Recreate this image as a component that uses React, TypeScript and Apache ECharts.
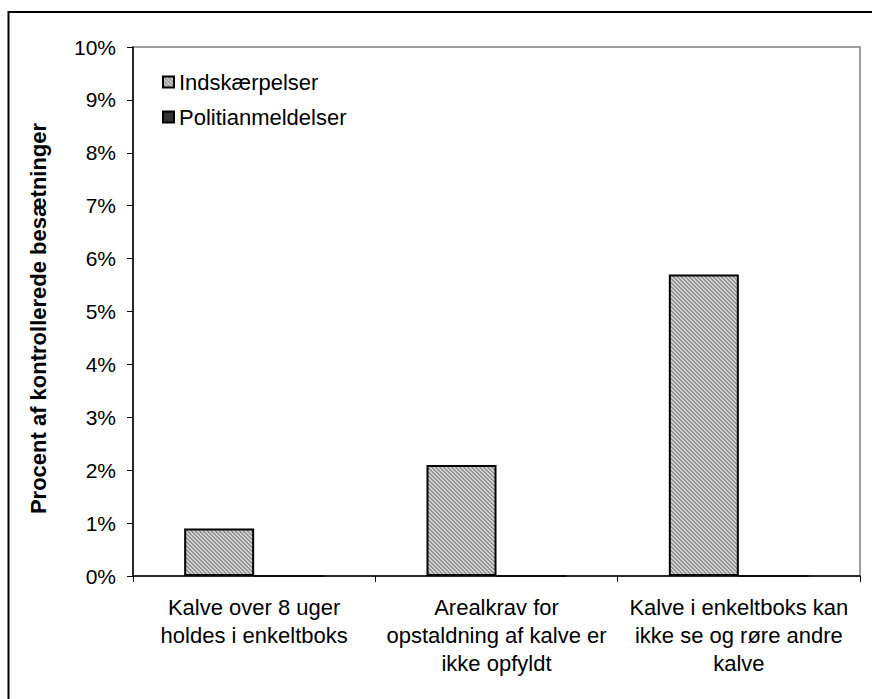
import React, { useEffect, useRef } from "react";
import * as echarts from "echarts";

const categories = [
  "Kalve over 8 uger\nholdes i enkeltboks",
  "Arealkrav for\nopstaldning af kalve er\nikke opfyldt",
  "Kalve i enkeltboks kan\nikke se og røre andre\nkalve",
];
const seriesNames = ["Indskærpelser", "Politianmeldelser"];
const indskaerpelser = [0.009, 0.021, 0.057];
const politianmeldelser = [0, 0, 0];
const yTicks = { min: 0, max: 0.1, interval: 0.01 };

function makeStripe(): HTMLCanvasElement {
  const c = document.createElement("canvas");
  c.width = 4;
  c.height = 4;
  const ctx = c.getContext("2d")!;
  for (let y = 0; y < 4; y++) {
    for (let x = 0; x < 4; x++) {
      const d = (((x - y) % 4) + 4) % 4;
      ctx.fillStyle = d < 2 ? "#969696" : "#d0d0d0";
      ctx.fillRect(x, y, 1, 1);
    }
  }
  return c;
}

export default function App() {
  const ref = useRef<HTMLDivElement>(null);
  useEffect(() => {
    if (!ref.current) return;
    const chart = echarts.init(ref.current, null, { renderer: "svg" });
    const stripe = makeStripe();
    const font = "Liberation Sans, Arial, sans-serif";
    chart.setOption({
      animation: false,
      backgroundColor: "#ffffff",
      textStyle: { fontFamily: font, color: "#000" },
      graphic: [
        {
          type: "rect",
          z: -10,
          shape: { x: 8.5, y: 12, width: 1000, height: 1000 },
          style: { fill: "none", stroke: "#000", lineWidth: 2 },
        },
      ],
      grid: {
        left: 133,
        top: 47,
        right: 12,
        bottom: 123,
        show: true,
        borderColor: "#808080",
        borderWidth: 1.5,
        backgroundColor: "transparent",
      },
      legend: {
        orient: "vertical",
        left: 157,
        top: 66,
        itemWidth: 11,
        itemHeight: 11,
        itemGap: 13,
        icon: "rect",
        textStyle: { fontSize: 22, fontFamily: font, color: "#000" },
        data: seriesNames,
      },
      xAxis: {
        type: "category",
        data: categories,
        boundaryGap: true,
        axisLine: { lineStyle: { color: "#000", width: 1.5 } },
        axisTick: { show: true, length: 6, lineStyle: { color: "#000", width: 1 } },
        axisLabel: {
          fontSize: 22,
          lineHeight: 28,
          color: "#000",
          margin: 17,
          interval: 0,
          fontFamily: font,
        },
      },
      yAxis: {
        type: "value",
        min: yTicks.min,
        max: yTicks.max,
        interval: yTicks.interval,
        name: "Procent af kontrollerede besætninger",
        nameLocation: "middle",
        nameGap: 84,
        nameTextStyle: {
          fontSize: 22,
          fontWeight: "bold",
          color: "#000",
          fontFamily: font,
          padding: [0, 14, 0, 0],
        },
        axisLine: { show: true, lineStyle: { color: "#000", width: 1.5 } },
        axisTick: { show: true, length: 6, lineStyle: { color: "#000", width: 1 } },
        splitLine: { show: false },
        axisLabel: {
          fontSize: 21,
          color: "#000",
          margin: 17,
          fontFamily: font,
          formatter: (v: number) => `${Math.round(v * 100)}%`,
        },
      },
      series: [
        {
          name: seriesNames[0],
          type: "bar",
          data: indskaerpelser,
          barWidth: 70,
          barGap: "0%",
          itemStyle: {
            color: { image: stripe, repeat: "repeat" },
            borderColor: "#000",
            borderWidth: 2,
          },
        },
        {
          name: seriesNames[1],
          type: "bar",
          data: politianmeldelser,
          barWidth: 70,
          barGap: "0%",
          itemStyle: { color: "#333333", borderColor: "#000", borderWidth: 1.5 },
        },
      ],
    });
    return () => chart.dispose();
  }, []);
  return (
    <div
      ref={ref}
      style={{ position: "absolute", left: 0, top: 0, width: 872, height: 699 }}
    />
  );
}
